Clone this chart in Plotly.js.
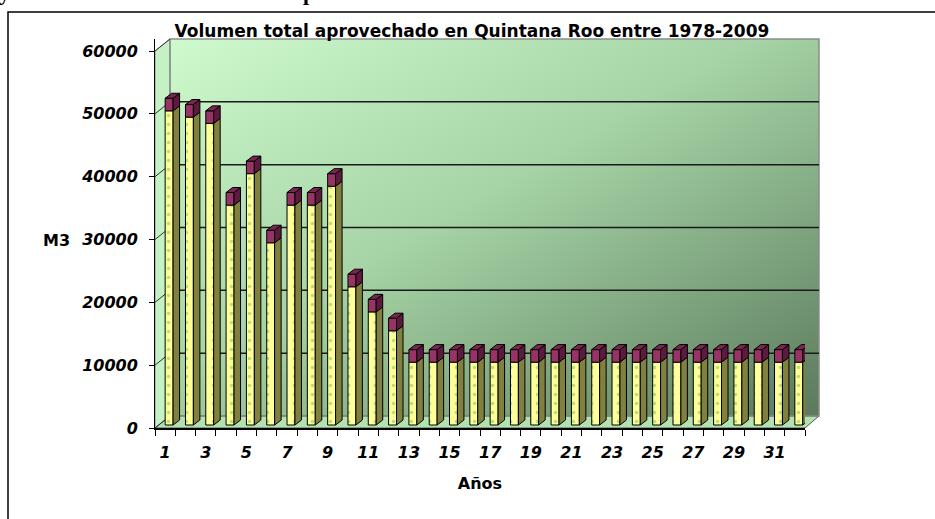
<!DOCTYPE html>
<html>
<head>
<meta charset="utf-8">
<script src="https://cdn.plot.ly/plotly-3.0.1.min.js"></script>
<style>html,body{margin:0;padding:0;background:#fff;}#chart{width:935px;height:519px;}</style>
</head>
<body>
<div id="chart"></div>
<script>
// ---- data ----
const years = [1,2,3,4,5,6,7,8,9,10,11,12,13,14,15,16,17,18,19,20,21,22,23,24,25,26,27,28,29,30,31,32];
const volumen = [50000,49000,48000,35000,40000,29000,35000,35000,38000,22000,18000,15000,
                 10000,10000,10000,10000,10000,10000,10000,10000,10000,10000,
                 10000,10000,10000,10000,10000,10000,10000,10000,10000,10000];
const tapa = [2000,2000,2000,2000,2000,2000,2000,2000,2000,2000,2000,2000,
              2000,2000,2000,2000,2000,2000,2000,2000,2000,2000,
              2000,2000,2000,2000,2000,2000,2000,2000,2000,2000];
const yTicks = [0,10000,20000,30000,40000,50000,60000];
const xTickVals = [1,3,5,7,9,11,13,15,17,19,21,23,25,27,29,31];
const xTickText = ['1','3','5','7','9','11','13','15','17','19','21','23','25','27','29','31'];
const titulo = 'Volumen total aprovechado en Quintana Roo entre 1978-2009';
const yTitulo = 'M3';
const xTitulo = 'Años';

// ---- geometry (pixels) ----
const W = 935, H = 519;
const L = 155, R = 819, T = 39, B = 428;       // plot area
const pw = R - L, ph = B - T;
const yMax = 60000 * ph / (B - 51);             // label axis top
const uPerPx = yMax / ph;
const X = px => (px - L) / pw;
const Y = py => (B - py) / ph;
const wallDx = 15, wallDy = 12;                  // back wall offset
const G = wallDy * uPerPx;
const catW = (805 - L) / years.length;
const barW = 0.39, barOff = 0.0;
const depthX = 6.5 / catW, depthY = 5 * uPerPx, frontShift = 3 * uPerPx;

const boundaries = [];
for (let i = 0; i <= years.length; i++) boundaries.push(0.5 + i);

// 3D side / top faces derived from the data
const sideBody = {x: [], y: []}, sideCap = {x: [], y: []}, topCap = {x: [], y: []};
years.forEach((yr, i) => {
  const v = volumen[i], c = tapa[i];
  const xl = yr + barOff, xr = xl + barW, xb = xr + depthX;
  sideBody.x.push(xr, xb, xb, xr, xr, null);
  sideBody.y.push(0, depthY, v + depthY, v, 0, null);
  sideCap.x.push(xr, xb, xb, xr, xr, null);
  sideCap.y.push(v, v + depthY, v + c + depthY, v + c, v, null);
  topCap.x.push(xl, xl + depthX, xb, xr, xl, null);
  topCap.y.push(v + c, v + c + depthY, v + c + depthY, v + c, v + c, null);
});

const fontTick = {family: 'DejaVu Sans', size: 16, color: '#000', weight: 'bold', style: 'italic'};
const face = (d, col) => ({type: 'scatter', mode: 'lines', x: d.x, y: d.y, xaxis: 'x', yaxis: 'y3',
  fill: 'toself', fillcolor: col, line: {color: '#000', width: 1}, hoverinfo: 'skip', showlegend: false, connectgaps: false});

const traces = [
  {type: 'bar', x: years, y: volumen, base: 0, xaxis: 'x', yaxis: 'y3',
   offset: barOff, width: barW,
   marker: {color: '#ffff99', line: {color: '#000', width: 1},
            pattern: {shape: '.', fgcolor: '#b9e070', bgcolor: '#ffff99', size: 9, solidity: 0.12}},
   hoverinfo: 'skip', showlegend: false},
  {type: 'bar', x: years, y: tapa, base: volumen, xaxis: 'x', yaxis: 'y3',
   offset: barOff, width: barW, marker: {color: '#993366', line: {color: '#000', width: 1}},
   hoverinfo: 'skip', showlegend: false},
  face(sideBody, '#80803f'),
  face(sideCap, '#5e1a3e'),
  face(topCap, '#7a2551')
];

const svg = '<svg xmlns="http://www.w3.org/2000/svg" width="649" height="377" viewBox="0 0 649 377" preserveAspectRatio="none">' +
  '<defs><linearGradient id="g" x1="0" y1="0" x2="1" y2="1">' +
  '<stop offset="0" stop-color="#cefacd"/><stop offset="0.45" stop-color="#a6d4a6"/><stop offset="1" stop-color="#5b7a5c"/>' +
  '</linearGradient></defs><rect x="0" y="0" width="649" height="377" fill="url(#g)"/></svg>';

const shapes = [];
// frame
shapes.push({type: 'rect', xref: 'paper', yref: 'paper', x0: X(8), x1: X(945), y0: Y(530), y1: Y(12),
  line: {color: '#000', width: 1.5}, fillcolor: 'rgba(0,0,0,0)', layer: 'below'});
// left wall
shapes.push({type: 'path', xref: 'paper', yref: 'paper',
  path: `M ${X(L)},${Y(B)} L ${X(L + wallDx)},${Y(B - wallDy)} L ${X(L + wallDx)},${Y(T)} L ${X(L)},${Y(T + wallDy)} Z`,
  fillcolor: '#c4f2c4', line: {color: '#8a8a8a', width: 1}, layer: 'below'});
// floor
shapes.push({type: 'path', xref: 'paper', yref: 'paper',
  path: `M ${X(L)},${Y(B)} L ${X(805)},${Y(B)} L ${X(R)},${Y(B - wallDy)} L ${X(L + wallDx)},${Y(B - wallDy)} Z`,
  fillcolor: '#b2e2b0', line: {color: '#555', width: 1}, layer: 'below'});
// back wall border
shapes.push({type: 'rect', xref: 'paper', yref: 'paper', x0: X(L + wallDx), x1: X(R), y0: Y(B - wallDy), y1: Y(T),
  line: {color: '#8c8c8c', width: 1.5}, fillcolor: 'rgba(0,0,0,0)', layer: 'below'});
// gridlines on back wall + diagonals
yTicks.forEach(v => {
  if (v > 0 && v < 60000) {
    shapes.push({type: 'line', xref: 'paper', yref: 'y', x0: X(L + wallDx), x1: 1, y0: v + G, y1: v + G,
      line: {color: '#1a1a1a', width: 1.5}, layer: 'below'});
  }
  shapes.push({type: 'line', xref: 'paper', yref: 'y', x0: 0, x1: X(L + wallDx), y0: v, y1: v + G,
    line: {color: '#333', width: 1}, layer: 'below'});
});

const layout = {
  width: W, height: H,
  margin: {l: L, r: W - R, t: T, b: H - B, pad: 0},
  paper_bgcolor: '#fff', plot_bgcolor: 'rgba(0,0,0,0)',
  barmode: 'overlay',
  showlegend: false,
  font: {family: 'DejaVu Sans', color: '#000'},
  title: {text: titulo, font: {family: 'DejaVu Sans', size: 17, weight: 'bold', color: '#000'},
          x: 472 / W, xanchor: 'center', xref: 'container', y: 1 - 31 / H, yanchor: 'middle', yref: 'container'},
  xaxis: {domain: [0, (805 - L) / pw], range: [0.5, years.length + 0.5], type: 'linear',
          tickmode: 'array', tickvals: xTickVals, ticktext: xTickText, ticks: '', ticklabelstandoff: 9,
          tickfont: fontTick, showline: true, linecolor: '#000', linewidth: 1.5, showgrid: false, zeroline: false,
          minor: {tickmode: 'array', tickvals: boundaries, ticks: 'outside', ticklen: 6, tickcolor: '#000', tickwidth: 1, showgrid: false},
          title: {text: xTitulo, font: {family: 'DejaVu Sans', size: 16, weight: 'bold', color: '#000'}, standoff: 17},
          fixedrange: true},
  yaxis: {range: [0, yMax], tickmode: 'array', tickvals: yTicks, ticktext: yTicks.map(String),
          ticks: 'outside', ticklen: 5, tickcolor: '#000', tickfont: fontTick, ticklabelstandoff: 8,
          showline: true, linecolor: '#000', linewidth: 1, showgrid: false, zeroline: false, fixedrange: true},
  yaxis3: {overlaying: 'y', range: [-frontShift, yMax - frontShift], visible: false, showgrid: false, zeroline: false, fixedrange: true},
  images: [{source: 'data:image/svg+xml;charset=utf-8,' + encodeURIComponent(svg),
            xref: 'paper', yref: 'paper', x: X(L + wallDx), y: 1, sizex: X(R) - X(L + wallDx), sizey: Y(T) - Y(B - wallDy),
            xanchor: 'left', yanchor: 'top', sizing: 'stretch', layer: 'below'}],
  shapes: shapes,
  annotations: [
    {text: yTitulo, xref: 'paper', yref: 'paper', x: X(56), y: Y(240), xanchor: 'center', yanchor: 'middle',
     showarrow: false, font: {family: 'DejaVu Sans', size: 16, weight: 'bold', color: '#000'}},
    {text: 'y', xref: 'paper', yref: 'paper', x: X(4), y: Y(6), xanchor: 'center', yanchor: 'bottom',
     showarrow: false, borderpad: 0, font: {family: 'Liberation Serif', size: 22, weight: 'bold', color: '#000'}},
    {text: 'p', xref: 'paper', yref: 'paper', x: X(309), y: Y(6), xanchor: 'center', yanchor: 'bottom',
     showarrow: false, borderpad: 0, font: {family: 'Liberation Serif', size: 22, weight: 'bold', color: '#000'}}
  ]
};

Plotly.newPlot('chart', traces, layout, {staticPlot: true, displayModeBar: false});
</script>
</body>
</html>
